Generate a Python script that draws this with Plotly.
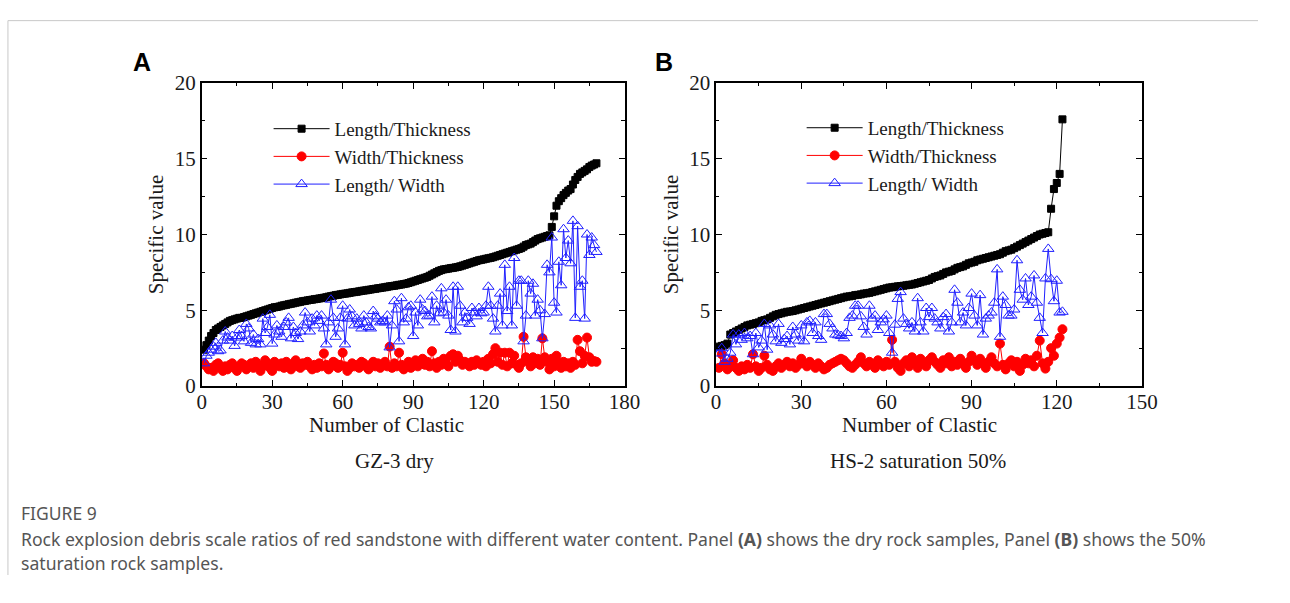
import plotly.graph_objects as go

# Figure kept a little smaller than the 1290x603 window so that the page
# never overflows; layout positions below are given in window pixels.
W, H = 1274, 587

# ---------------- data ----------------
series_names = ["Length/Thickness", "Width/Thickness", "Length/ Width"]

A_length_thickness = [
    2.4, 2.7, 3.0, 3.3, 3.5, 3.7, 3.8, 3.9, 4.0, 4.1,
    4.2, 4.3, 4.35, 4.4, 4.45, 4.5, 4.5, 4.55, 4.6, 4.65,
    4.7, 4.75, 4.8, 4.85, 4.9, 4.95, 5.0, 5.05, 5.1, 5.15,
    5.2, 5.22, 5.25, 5.3, 5.33, 5.36, 5.4, 5.43, 5.46, 5.5,
    5.53, 5.56, 5.6, 5.62, 5.65, 5.68, 5.7, 5.73, 5.75, 5.78,
    5.8, 5.83, 5.86, 5.9, 5.93, 5.96, 6.0, 6.02, 6.05, 6.08,
    6.1, 6.12, 6.15, 6.18, 6.2, 6.22, 6.25, 6.28, 6.3, 6.32,
    6.35, 6.37, 6.4, 6.42, 6.45, 6.47, 6.5, 6.52, 6.55, 6.58,
    6.6, 6.62, 6.65, 6.68, 6.7, 6.73, 6.76, 6.8, 6.85, 6.9,
    6.95, 7.0, 7.05, 7.1, 7.15, 7.2, 7.28, 7.36, 7.44, 7.52,
    7.6, 7.65, 7.7, 7.72, 7.75, 7.78, 7.8, 7.83, 7.86, 7.9,
    7.95, 8.0, 8.05, 8.1, 8.15, 8.2, 8.25, 8.3, 8.33, 8.36,
    8.4, 8.43, 8.46, 8.5, 8.55, 8.6, 8.65, 8.7, 8.75, 8.8,
    8.85, 8.9, 8.95, 9.0, 9.05, 9.1, 9.2, 9.3, 9.35, 9.4,
    9.5, 9.6, 9.7, 9.75, 9.8, 9.85, 9.9, 9.95,
    10.5, 11.2, 11.9, 12.2, 12.4, 12.6, 12.75, 12.9, 13.0, 13.3,
    13.6, 13.8, 14.0, 14.1, 14.2, 14.3, 14.45, 14.55, 14.62, 14.7,
]

A_width_thickness = [
    1.5, 1.3, 1.1, 1.2, 1.0, 1.4, 1.5, 1.2, 1.0, 1.3,
    1.1, 1.4, 1.5, 1.2, 1.0, 1.3, 1.5, 1.4, 1.1, 1.3,
    1.5, 1.2, 1.6, 1.4, 1.0, 1.3, 1.7, 1.5, 1.2, 1.0,
    1.6, 1.4, 1.3, 1.5, 1.2, 1.6, 1.4, 1.1, 1.5, 1.7,
    1.3, 1.2, 1.5, 1.4, 1.6, 1.3, 1.1, 1.4, 1.2, 1.5,
    1.3, 2.15, 1.4, 1.1, 1.3, 1.6, 1.5, 1.2, 1.4, 2.2,
    1.3, 1.0, 1.2, 1.5, 1.3, 1.4, 1.2, 1.6, 1.5, 1.3,
    1.1, 1.4, 1.6, 1.3, 1.5, 1.2, 1.4, 1.6, 1.3, 2.6,
    1.2, 1.5, 1.3, 2.2, 1.4, 1.1, 1.3, 1.6, 1.2, 1.4,
    1.7, 1.3, 1.5, 1.8, 1.4, 1.6, 1.3, 2.3, 1.5, 1.2,
    1.6, 1.4, 1.8, 1.5, 1.3, 2.0, 2.1, 1.6, 2.0, 1.7,
    1.4, 1.6, 1.5, 1.3, 1.6, 1.4, 1.7, 1.5, 1.4, 1.6,
    1.3, 1.8, 1.5, 2.1, 2.5, 1.6, 2.2, 1.4, 2.2, 1.3,
    2.2, 1.5, 2.0, 1.4, 1.2, 1.5, 3.25, 1.9, 1.6, 1.3,
    1.9, 1.5, 1.8, 1.4, 3.15, 1.9, 1.6, 1.1, 1.8, 1.3,
    2.0, 1.5, 1.2, 1.6, 1.3, 1.5, 1.2, 1.6, 1.4, 3.05,
    2.3, 1.5, 2.0, 3.2, 1.9, 1.6, 1.65, 1.6,
]

A_length_width = [
    1.5, 2.0, 2.2, 2.4, 2.6, 2.85, 2.3, 2.35, 3.0, 3.6,
    3.2, 3.0, 3.3, 2.65, 3.2, 3.7, 3.3, 2.95, 4.1, 3.8,
    2.85, 3.4, 2.75, 3.1, 2.75, 4.45, 3.5, 3.9, 4.7, 2.8,
    3.4, 4.0, 3.6, 3.25, 3.9, 4.2, 4.5, 3.15, 3.9, 3.5,
    3.1, 3.6, 4.0, 4.85, 4.2, 3.6, 4.45, 4.0, 4.65, 4.3,
    4.65, 3.8, 2.75, 4.2, 5.7, 4.5, 3.25, 3.8, 4.5, 5.3,
    2.75, 4.45, 5.05, 4.6, 4.0, 4.45, 4.1, 3.8, 4.65, 4.2,
    3.9, 3.8, 4.95, 4.6, 4.45, 4.2, 4.3, 4.2, 4.65, 2.55,
    4.0, 5.6, 5.05, 2.95, 5.8, 4.2, 4.45, 5.2, 5.3, 3.3,
    4.85, 4.0, 5.7, 5.05, 4.95, 4.6, 4.65, 5.9, 4.2, 5.3,
    4.8, 6.45, 4.85, 5.7, 4.65, 3.7, 6.55, 3.6, 6.55, 5.3,
    4.2, 4.85, 4.5, 4.1, 5.15, 4.85, 4.6, 5.15, 4.8, 4.85,
    5.3, 6.55, 5.3, 4.45, 3.6, 5.3, 6.1, 4.0, 8.0, 4.95,
    6.55, 4.0, 8.45, 5.3, 6.95, 6.95, 2.95, 4.65, 6.95, 6.1,
    6.75, 4.65, 5.7, 5.0, 3.15, 4.75, 8.0, 7.5, 9.8, 5.5,
    4.85, 8.2, 6.65, 10.35, 8.45, 9.6, 8.1, 10.9, 4.5, 10.55,
    6.55, 6.95, 4.45, 10.0, 8.65, 9.8, 9.3, 8.85,
]

B_length_thickness = [
    2.6, 2.65, 2.7, 2.8, 3.4, 3.5, 3.6, 3.7, 3.8, 3.9,
    4.0, 4.05, 4.1, 4.15, 4.2, 4.3, 4.35, 4.4, 4.5, 4.6,
    4.7, 4.75, 4.8, 4.85, 4.9, 4.92, 4.95, 5.0, 5.05, 5.1,
    5.15, 5.2, 5.25, 5.3, 5.35, 5.4, 5.45, 5.5, 5.55, 5.6,
    5.65, 5.7, 5.75, 5.8, 5.85, 5.9, 5.92, 5.95, 6.0, 6.02,
    6.05, 6.1, 6.12, 6.15, 6.2, 6.25, 6.3, 6.35, 6.4, 6.45,
    6.5, 6.52, 6.55, 6.58, 6.6, 6.62, 6.65, 6.68, 6.7, 6.75,
    6.8, 6.85, 6.9, 6.95, 7.0, 7.1, 7.2, 7.25, 7.3, 7.4,
    7.5, 7.55, 7.6, 7.7, 7.8, 7.85, 7.9, 8.0, 8.1, 8.15,
    8.2, 8.3, 8.35, 8.4, 8.45, 8.5, 8.55, 8.6, 8.65, 8.7,
    8.8, 8.9, 8.95, 9.0, 9.1, 9.2, 9.3, 9.4, 9.5, 9.6,
    9.7, 9.8, 9.9, 10.0, 10.05, 10.1, 10.15, 11.7, 13.0, 13.4,
    14.0, 17.6,
]

B_width_thickness = [
    1.2, 2.1, 1.5, 1.1, 1.3, 1.7, 1.2, 1.0, 1.3, 1.1,
    1.4, 1.2, 2.1, 1.3, 1.0, 1.2, 2.0, 1.4, 1.1, 1.0,
    1.3, 1.5, 1.2, 1.4, 1.6, 1.3, 1.5, 1.2, 1.4, 1.8,
    1.5, 1.3, 1.6, 1.4, 1.2, 1.5, 1.3, 1.1, 1.2, 1.4,
    1.5, 1.6, 1.7, 1.8, 1.7, 1.5, 1.3, 1.2, 1.4, 1.6,
    1.9, 1.5, 1.3, 1.6, 1.4, 1.2, 1.7, 1.5, 1.3, 1.6,
    1.4, 3.05, 1.6, 1.2, 1.0, 1.5, 1.7, 1.3, 1.9, 1.6,
    1.2, 1.8, 1.5, 1.3, 1.7, 1.9, 1.6, 1.4, 1.2, 1.7,
    1.5, 1.9, 1.3, 1.6, 1.4, 1.8, 1.5, 1.2, 1.6, 2.0,
    1.7, 1.4, 1.8, 1.5, 1.2, 1.6, 1.9, 1.5, 1.3, 2.8,
    1.4, 1.1, 1.5, 1.7, 1.3, 1.6, 1.0, 1.4, 1.8, 1.5,
    1.7, 1.3, 2.0, 3.0, 1.5, 1.15, 1.6, 2.5, 2.0, 2.8,
    3.2, 3.75,
]

B_length_width = [
    2.15, 2.5, 1.6, 1.8, 2.2, 3.4, 2.75, 3.4, 3.05, 3.5,
    3.15, 3.3, 2.1, 3.5, 2.55, 3.0, 4.1, 2.4, 4.0, 3.4,
    2.95, 4.1, 2.85, 3.1, 3.3, 2.75, 3.9, 3.4, 3.0, 4.0,
    2.95, 4.2, 4.3, 3.5, 4.2, 3.3, 3.05, 4.75, 4.75, 4.1,
    3.8, 3.4, 3.35, 3.3, 3.15, 3.5, 4.5, 4.65, 5.3, 5.3,
    4.6, 3.9, 3.4, 5.3, 4.45, 4.65, 3.7, 4.2, 4.4, 4.65,
    3.5, 2.2, 4.05, 5.75, 6.2, 4.45, 4.1, 3.8, 4.2, 3.6,
    5.8, 4.2, 3.6, 5.15, 4.55, 5.15, 4.45, 4.2, 3.8, 4.55,
    4.75, 3.6, 4.2, 6.35, 5.5, 4.2, 4.85, 4.0, 5.15, 6.1,
    4.65, 4.0, 6.0, 3.4, 4.45, 4.65, 4.85, 5.5, 7.7, 3.25,
    5.9, 5.35, 4.65, 4.65, 5.05, 8.3, 6.35, 5.7, 7.1, 5.35,
    5.9, 7.3, 5.5, 4.5, 3.5, 7.1, 9.05, 7.05, 5.6, 6.95,
    4.85, 4.9,
]

A_xticks = [0, 30, 60, 90, 120, 150, 180]
B_xticks = [0, 30, 60, 90, 120, 150]
y_ticks = [0, 5, 10, 15, 20]

panel_titles = ["GZ-3 dry", "HS-2 saturation 50%"]
panel_letters = ["A", "B"]
x_title = "Number of Clastic"
y_title = "Specific value"
fig_label = "FIGURE 9"
caption_1 = ("Rock explosion debris scale ratios of red sandstone with different water content. "
             "Panel <b>(A)</b> shows the dry rock samples, Panel <b>(B)</b> shows the 50%")
caption_2 = "saturation rock samples."

# ---------------- styles ----------------
SERIF = "Liberation Serif"
TXT = "#1a1a1a"
styles = [
    dict(color="black", symbol="square", size=7, lw=1.0),
    dict(color="#ff0000", symbol="circle", size=9, lw=1.0),
    dict(color="#2020ff", symbol="triangle-up-open", size=10, lw=1.0),
]


def fx(p):
    """window x pixel -> paper fraction"""
    return p / W


def fy(p):
    """window y pixel -> paper fraction"""
    return 1 - p / H


fig = go.Figure()

panels = [
    ("x", "y", "legend", [A_length_thickness, A_width_thickness, A_length_width]),
    ("x2", "y2", "legend2", [B_length_thickness, B_width_thickness, B_length_width]),
]
for xa, ya, leg, data in panels:
    for name, vals, st in zip(series_names, data, styles):
        fig.add_trace(go.Scatter(
            x=list(range(1, len(vals) + 1)), y=vals, name=name,
            mode="lines+markers", xaxis=xa, yaxis=ya, legend=leg,
            line=dict(color=st["color"], width=st["lw"]),
            marker=dict(symbol=st["symbol"], size=st["size"], color=st["color"],
                        line=dict(color=st["color"], width=1)),
        ))

axis_common = dict(
    showline=True, linecolor="black", linewidth=1.5, mirror="ticks",
    ticks="inside", ticklen=6, tickwidth=1.3, tickcolor="black",
    showgrid=False, zeroline=False,
    tickfont=dict(family=SERIF, size=21, color=TXT),
)
xminor = dict(ticks="inside", ticklen=3.5, tickwidth=1.2, tickcolor="black", dtick=15, showgrid=False)
yminor = dict(ticks="inside", ticklen=3.5, tickwidth=1.2, tickcolor="black", dtick=2.5, showgrid=False)

ytitle = dict(text=y_title, font=dict(family=SERIF, size=21, color=TXT), standoff=5)
legend_common = dict(xanchor="left", yanchor="top", bgcolor="rgba(0,0,0,0)",
                     tracegroupgap=0, itemwidth=56,
                     font=dict(family=SERIF, size=19, color=TXT))

ydom = [fy(390), fy(74)]
fig.update_layout(
    width=W, height=H, margin=dict(l=0, r=0, t=0, b=0),
    paper_bgcolor="white", plot_bgcolor="white",
    xaxis=dict(domain=[fx(200), fx(630)], range=[0, 180], tickvals=A_xticks,
               minor=xminor, anchor="y", ticklabelstandoff=-4, **axis_common),
    yaxis=dict(domain=ydom, range=[0, 20], tickvals=y_ticks, minor=yminor, anchor="x",
               title=ytitle, **axis_common),
    xaxis2=dict(domain=[fx(723), fx(1156)], range=[0, 150], tickvals=B_xticks,
                minor=xminor, anchor="y2", ticklabelstandoff=-4, **axis_common),
    yaxis2=dict(domain=ydom, range=[0, 20], tickvals=y_ticks, minor=yminor, anchor="x2",
                title=ytitle, **axis_common),
    legend=dict(x=fx(268), y=fy(102), **legend_common),
    legend2=dict(x=fx(810), y=fy(101), **legend_common),
    showlegend=True,
)

ann = []
for cx in (388, 930):
    ann.append(dict(x=fx(cx), y=fy(431), xref="paper", yref="paper", text=x_title,
                    showarrow=False, xanchor="center", yanchor="middle",
                    font=dict(family=SERIF, size=21, color=TXT)))
for cx, t in zip((396, 928), panel_titles):
    ann.append(dict(x=fx(cx), y=fy(468), xref="paper", yref="paper", text=t,
                    showarrow=False, xanchor="center", yanchor="middle",
                    font=dict(family=SERIF, size=21, color=TXT)))
for cx, t in zip((139, 670), panel_letters):
    ann.append(dict(x=fx(cx), y=fy(52), xref="paper", yref="paper", text="<b>" + t + "</b>",
                    showarrow=False, xanchor="center", yanchor="middle",
                    font=dict(family="Liberation Sans", size=25, color="black")))
ann.append(dict(x=fx(14), y=fy(522), xref="paper", yref="paper", text=fig_label,
                showarrow=False, xanchor="left", yanchor="middle",
                font=dict(family="Noto Sans", size=17.5, color="#555")))
for cy, t in zip((549, 575), (caption_1, caption_2)):
    ann.append(dict(x=fx(14), y=fy(cy), xref="paper", yref="paper", text=t,
                    showarrow=False, xanchor="left", yanchor="middle",
                    font=dict(family="Noto Sans", size=17.6, color="#555")))
fig.update_layout(annotations=ann)

fig.update_layout(shapes=[
    dict(type="line", xref="paper", yref="paper", x0=fx(3), x1=1, y0=fy(9), y1=fy(9),
         line=dict(color="#c8c8c8", width=1)),
    dict(type="line", xref="paper", yref="paper", x0=fx(3), x1=fx(3), y0=fy(9), y1=0,
         line=dict(color="#c8c8c8", width=1)),
])

fig.write_html("out.html")
